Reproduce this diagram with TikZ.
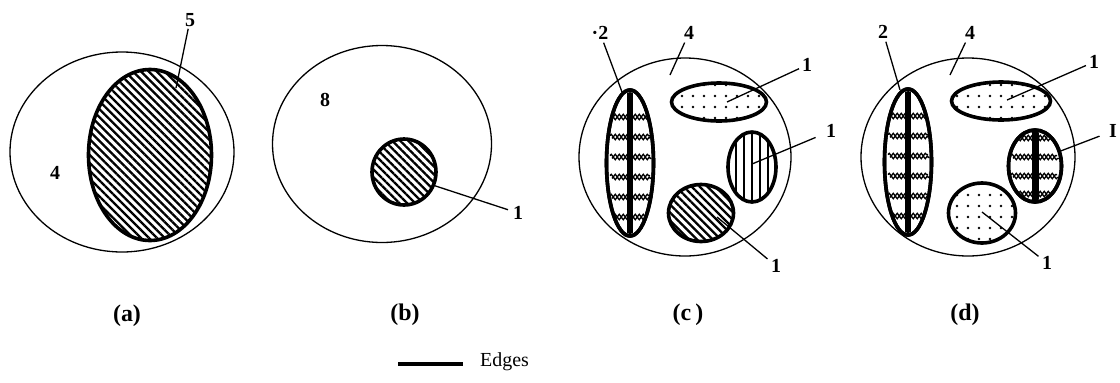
\documentclass[tikz,border=0pt]{standalone}
\usepackage{fontspec}
\setmainfont{Liberation Serif}
\usetikzlibrary{shapes.geometric,patterns.meta,decorations.pathmorphing}
\begin{document}
\begin{tikzpicture}[x=1bp,y=-1bp,
  outerE/.style={draw, ellipse, line width=1.3bp, inner sep=0pt},
  innerE/.style={draw, ellipse, line width=3.6bp, inner sep=0pt},
  hatchE/.style={innerE, pattern={Lines[angle=-45,distance=5.6bp,line width=2.3bp]}},
  vstripeE/.style={innerE, pattern={Lines[angle=90,distance=8bp,line width=1.5bp]}},
  dotE/.style={innerE, pattern={Dots[radius=1.4bp,distance=11bp]}},
  band/.style={decorate, decoration={snake, segment length=4bp, amplitude=1.3bp}, line width=1.3bp},
  checkerE/.style={innerE, fill=white},
  lab/.style={inner sep=1bp, font=\fontsize{20}{20}\selectfont\bfseries},
  captxt/.style={inner sep=1bp, font=\fontsize{24}{24}\selectfont\bfseries},
  leader/.style={line width=1.3bp}]
\useasboundingbox (0,0) rectangle (1120,382);

% ---------- (a)
\node[outerE, minimum width=224bp, minimum height=200bp] (aout) at (122,152) {};
\node[hatchE, minimum width=123bp, minimum height=171bp] (ain) at (150,155) {};
\node[lab] (a5) at (190,20) {5};
\node[lab] (a4) at (55,173) {4};
\coordinate (a5t) at (176,88);
\draw[leader, shorten <=1bp] (a5) -- (a5t);
\node[captxt] (capa) at (127,316) {(a)};

% ---------- (b)
\node[outerE, minimum width=219bp, minimum height=197bp] (bout) at (382,144) {};
\node[hatchE, minimum width=64bp, minimum height=66bp] (bin) at (404,172) {};
\node[lab] (b8) at (325,100) {8};
\node[lab] (b1) at (518,213) {1};
\draw[leader, shorten <=4bp] (b1) -- (bin.-24);
\node[captxt] (capb) at (405,315) {(b)};

% ---------- (c)
\node[outerE, minimum width=212bp, minimum height=198bp] (cout) at (685,157) {};
\node[checkerE, minimum width=47bp, minimum height=146bp] (cchk) at (630,163) {};
\begin{scope}[shift={(cchk.center)}]
  \clip (0,0) ellipse [x radius=21.7, y radius=71];
  \fill (-2.7,-80) rectangle (2.7,80);
  \foreach \yy in {-46,-26,-6,14,34,54} {
    \draw[band] (-20,\yy-1.4) -- (20,\yy-1.4);
    \draw[band] (-18,\yy+1.4) -- (22,\yy+1.4); }
\end{scope}
\node[innerE, minimum width=47bp, minimum height=146bp] at (630,163) {};
\node[dotE, minimum width=95bp, minimum height=38bp] (cdot) at (719,102) {};
\node[vstripeE, minimum width=48bp, minimum height=70bp] (cvs) at (752,167) {};
\node[hatchE, minimum width=65bp, minimum height=57bp] (chat) at (701,213) {};
\node[lab] (c2) at (600,33) {·2};
\node[lab] (c4) at (689,33) {4};
\node[lab] (c1a) at (807,65) {1};
\node[lab] (c1b) at (831,131) {1};
\node[lab] (c1c) at (776,266) {1};
\coordinate (c2t) at (622,92);
\coordinate (c4t) at (670,75);
\coordinate (c1at) at (727,102);
\coordinate (c1bt) at (752,164);
\coordinate (c1ct) at (717,217);
\draw[leader, shorten <=2bp] (c2) -- (c2t);
\draw[leader, shorten <=2bp] (c4) -- (c4t);
\draw[leader, shorten <=2bp] (c1a) -- (c1at);
\draw[leader, shorten <=10bp] (c1b) -- (c1bt);
\draw[leader, shorten <=3bp] (c1c) -- (c1ct);
\node[captxt] (capc) at (688,315) {(c\,)};

% ---------- (d)
\node[outerE, minimum width=214bp, minimum height=198bp] (dout) at (968,157) {};
\node[checkerE, minimum width=47bp, minimum height=146bp] (dchk) at (908,162) {};
\begin{scope}[shift={(dchk.center)}]
  \clip (0,0) ellipse [x radius=21.7, y radius=71];
  \fill (-2.7,-80) rectangle (2.7,80);
  \foreach \yy in {-46,-26,-6,14,34,54} {
    \draw[band] (-20,\yy-1.4) -- (20,\yy-1.4);
    \draw[band] (-18,\yy+1.4) -- (22,\yy+1.4); }
\end{scope}
\node[innerE, minimum width=47bp, minimum height=146bp] at (908,162) {};
\node[dotE, minimum width=99bp, minimum height=38bp] (ddot) at (1001,101) {};
\node[checkerE, minimum width=53bp, minimum height=72bp] (dchk2) at (1035,166) {};
\begin{scope}[shift={(dchk2.center)}]
  \clip (0,0) ellipse [x radius=24.7, y radius=34.2];
  \fill (-3.5,-40) rectangle (3.5,40);
  \foreach \yy in {-28,-9,10,28} {
    \draw[band] (-24,\yy-1.4) -- (22,\yy-1.4);
    \draw[band] (-22,\yy+1.4) -- (24,\yy+1.4); }
\end{scope}
\node[innerE, minimum width=53bp, minimum height=72bp] at (1035,166) {};
\node[dotE, minimum width=67bp, minimum height=60bp] (ddc) at (982,213) {};
\node[lab] (d2) at (883,32) {2};
\node[lab] (d4) at (970,33) {4};
\node[lab] (d1a) at (1094,62) {1};
\node[lab] (d1b) at (1113,131) {I};
\node[lab] (d1c) at (1047,263) {1};
\coordinate (d2t) at (900,90);
\coordinate (d4t) at (950,75);
\coordinate (d1at) at (1007,100);
\coordinate (d1bt) at (1058,152);
\coordinate (d1ct) at (982,212);
\draw[leader, shorten <=2bp] (d2) -- (d2t);
\draw[leader, shorten <=2bp] (d4) -- (d4t);
\draw[leader, shorten <=2bp] (d1a) -- (d1at);
\draw[leader, shorten <=9bp] (d1b) -- (d1bt);
\draw[leader, shorten <=3bp] (d1c) -- (d1ct);
\node[captxt] (capd) at (965,315) {(d)};

% ---------- legend
\coordinate (lg1) at (398,364);
\coordinate (lg2) at (463,364);
\draw[line width=4.5bp] (lg1) -- (lg2);
\node[inner sep=0pt, anchor=base west, font=\fontsize{20}{20}\selectfont] (edges) at (480,366) {Edges};
\end{tikzpicture}
\end{document}
